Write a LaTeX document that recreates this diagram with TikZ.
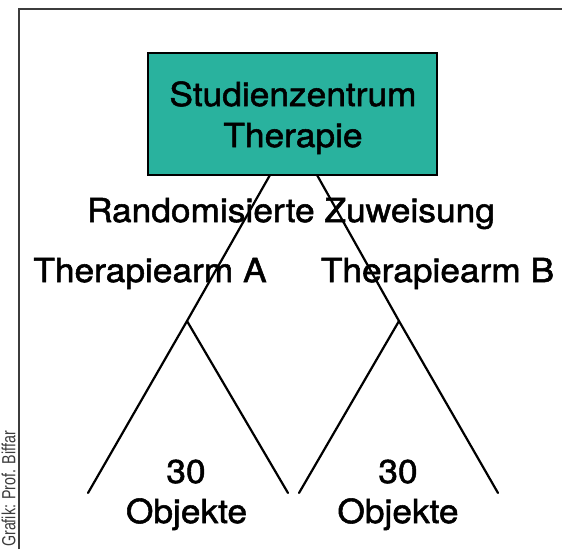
\documentclass[tikz,border=0pt]{standalone}
\usepackage{fontspec}
\setmainfont[FakeStretch=1.07,FakeBold=1.6]{TeX Gyre Heros}
\newfontfamily\creditfont[FakeStretch=0.75]{Liberation Sans}
\definecolor{boxteal}{RGB}{41,178,158}
\definecolor{framegray}{RGB}{60,60,60}
\begin{document}
\begin{tikzpicture}[x=1pt,y=-1pt,
  lbl/.style={font=\fontsize{33}{41}\selectfont, inner sep=0pt, anchor=base},
  centerbox/.style={draw=black, line width=1.5pt, fill=boxteal, minimum width=289pt, minimum height=122pt, inner sep=0pt},
  branch/.style={line width=2.2pt, line cap=round, line join=round},
  frameline/.style={draw=framegray, line width=1.5pt}]
\useasboundingbox (0,0) rectangle (562,549);
\fill[white] (0,0) rectangle (562,549);
\draw[frameline] (19,549) -- (19,9) -- (562,9);
\node[rotate=90, anchor=base west, inner sep=0pt, font=\creditfont\fontsize{19}{22}\selectfont, text=framegray] (credit) at (15.5,547) {Grafik: Prof. Biffar};

\node[centerbox] (box) at (292.5,114) {};
\node[lbl] (title1) at (293,106) {Studienzentrum};
\node[lbl] (title2) at (293,147) {Therapie};

\node[lbl] (rand) at (291,222) {Randomisierte Zuweisung};
\node[lbl] (armA) at (150,282) {Therapiearm A};
\node[lbl] (armB) at (437.5,282) {Therapiearm B};
\node[lbl] (nA) at (186,483) {30};
\node[lbl] (oA) at (186.5,523) {Objekte};
\node[lbl] (nB) at (398,483) {30};
\node[lbl] (oB) at (398,523) {Objekte};

\coordinate (la) at (270,175);
\coordinate (jA) at (187,321);
\coordinate (a1) at (88,493);
\coordinate (a2) at (288,493);
\coordinate (lb) at (317,175);
\coordinate (jB) at (399,321);
\coordinate (b1) at (299,493);
\coordinate (b2) at (498,493);

\draw[branch] (la) -- (jA) -- (a1);
\draw[branch] (jA) -- (a2);
\draw[branch] (lb) -- (jB) -- (b2);
\draw[branch] (jB) -- (b1);
\end{tikzpicture}
\end{document}
